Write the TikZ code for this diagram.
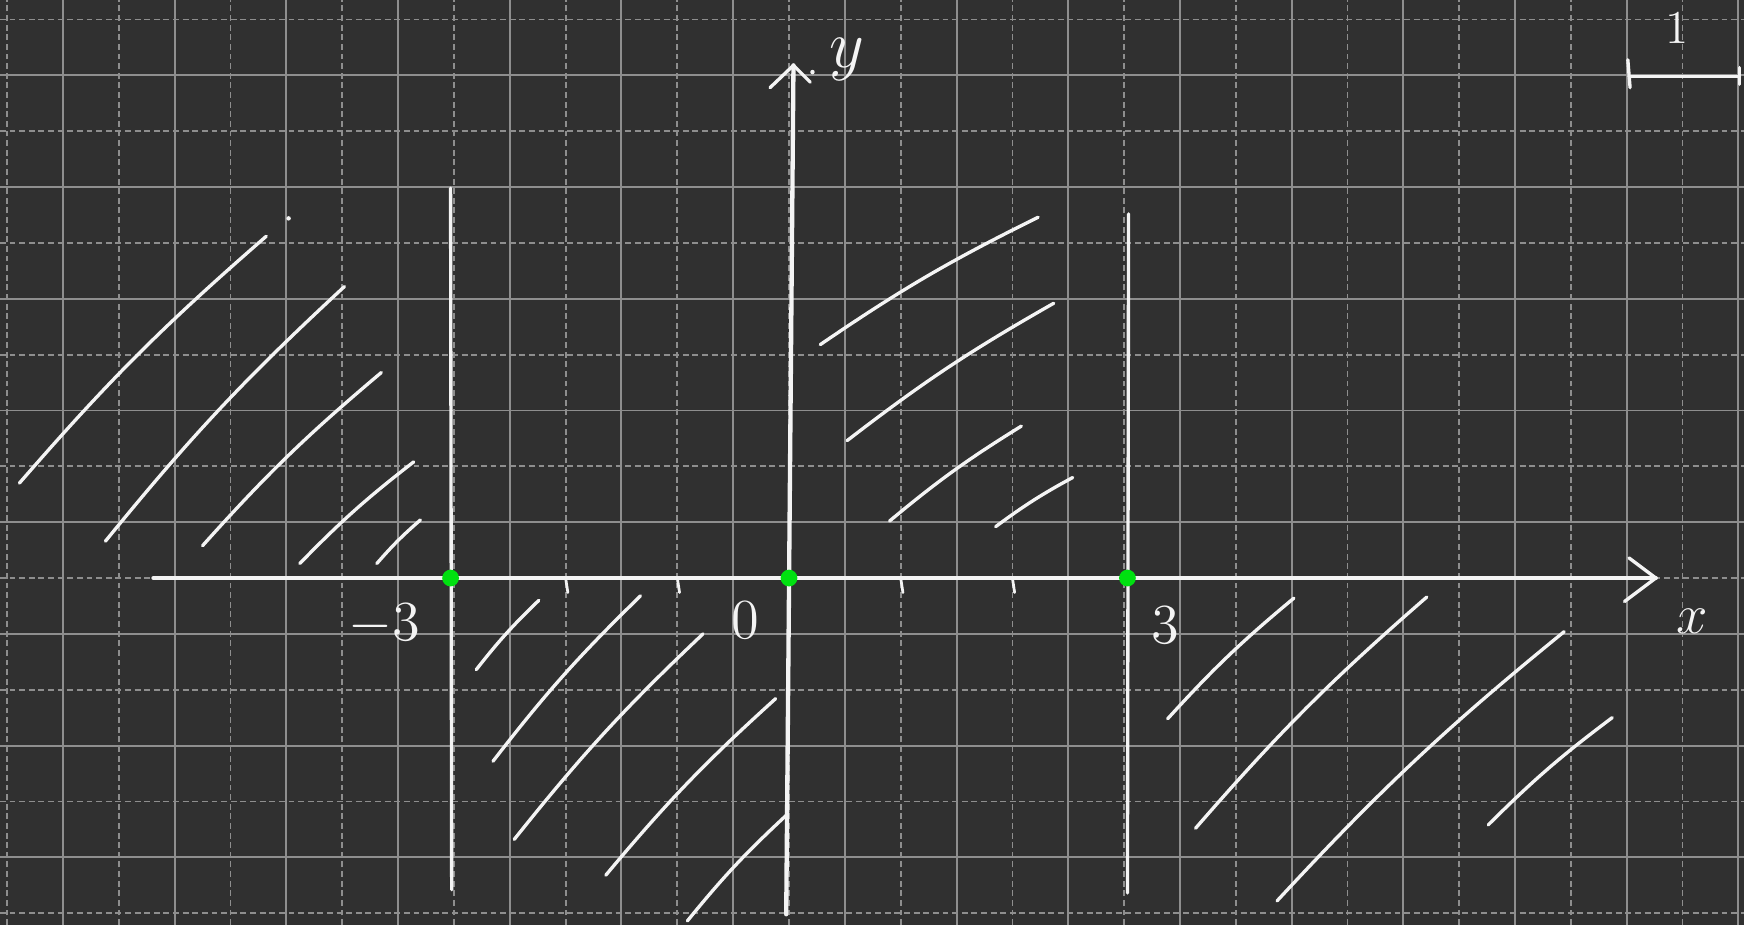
\documentclass[tikz,border=0pt]{standalone}
\usepackage{tikz}
\definecolor{Board}{HTML}{303030}
\definecolor{GridLine}{HTML}{8E8E8E}
\definecolor{Chalk}{HTML}{F4F4F4}
\definecolor{Dot}{HTML}{00E010}

\begin{document}
\begin{tikzpicture}[every node/.style={font=\Large, text=Chalk},
    chalk/.style={Chalk, line width=0.85pt, line cap=round, line join=round},
    hatch/.style={chalk, bend left=4},
    minor/.style={GridLine, line width=0.45pt, dash pattern=on 1.5pt off 0.95pt},
    major/.style={GridLine, line width=0.5pt}]
      \fill[Board] (-7.064,-3.107) rectangle (8.55,5.175);
      \useasboundingbox (-7.064,-3.107) rectangle (8.55,5.175);
      % grid: dashed on integers, solid on halves
      \foreach \x in {-7,...,8} {
        \draw[minor] (\x,-3.107) -- (\x,5.175);
      }
      \foreach \y in {-3,...,5} {
        \draw[minor] (-7.064,\y) -- (8.55,\y);
      }
      \foreach \x in {-6.5,-5.5,...,8.5} {
        \draw[major] (\x,-3.107) -- (\x,5.175);
      }
      \foreach \y in {-2.5,-1.5,...,4.5} {
        \draw[major] (-7.064,\y) -- (8.55,\y);
      }
      % axes
      \draw[chalk, line width=1.1pt] (-5.69,0) -- (7.76,0);
      \draw[chalk] (7.52,0.18) -- (7.76,0) -- (7.48,-0.21);
      \draw[chalk, line width=1.1pt] (-0.025,-3.01) -- (0.04,4.59);
      \draw[chalk] (-0.17,4.39) -- (0.04,4.59) -- (0.19,4.44);
      \fill[Chalk] (0.21,4.53) circle (0.02);
      \node (xlbl) at (8.09,-0.39) {$x$};
      \node[font=\LARGE] (ylbl) at (0.52,4.64) {$y$};
      % boundaries x=-3 and x=3
      \draw[chalk] (-3.03,3.49) -- (-3.02,-2.79);
      \draw[chalk] (3.04,3.26) -- (3.03,-2.82);
      \foreach \t in {-2,-1,1,2} {
        \draw[chalk, line width=0.7pt] (\t,0) -- (\t+0.02,-0.13);
      }
      \node (mthree) at (-3.62,-0.42) {$-3$};
      \node (zero) at (-0.39,-0.38) {0};
      \node (three) at (3.37,-0.42) {3};
      % roots
      \foreach \r in {-3.03,0,3.03} {
        \fill[Dot] (\r,0) circle (0.075);
      }
      % hatching
      \foreach \xa/\ya/\xb/\yb in {-6.89/0.85/-4.68/3.06, -6.12/0.33/-3.98/2.61,
          -5.25/0.29/-3.65/1.84, -4.38/0.13/-3.36/1.04, -3.69/0.13/-3.30/0.52,
          -2.80/-0.82/-2.24/-0.20, -2.65/-1.64/-1.33/-0.16, -2.46/-2.34/-0.77/-0.50,
          -1.64/-2.66/-0.12/-1.08, -0.91/-3.07/-0.02/-2.12,
          0.28/2.09/2.23/3.23, 0.52/1.23/2.37/2.46, 0.90/0.51/2.08/1.36,
          1.85/0.46/2.54/0.90,
          3.39/-1.26/4.52/-0.18, 3.64/-2.24/5.71/-0.17, 4.37/-2.89/6.94/-0.48,
          6.26/-2.21/7.37/-1.25} {
        \draw[hatch] (\xa,\ya) to (\xb,\yb);
      }
      \fill[Chalk] (-4.48,3.22) circle (0.02);
      % unit length
      \draw[chalk] (7.51,4.64) -- (7.53,4.39);
      \draw[chalk] (7.52,4.49) -- (8.51,4.49);
      \draw[chalk] (8.51,4.57) -- (8.51,4.42);
      \node[font=\large] (unit) at (7.95,4.93) {1};
    \end{tikzpicture}
\end{document}
